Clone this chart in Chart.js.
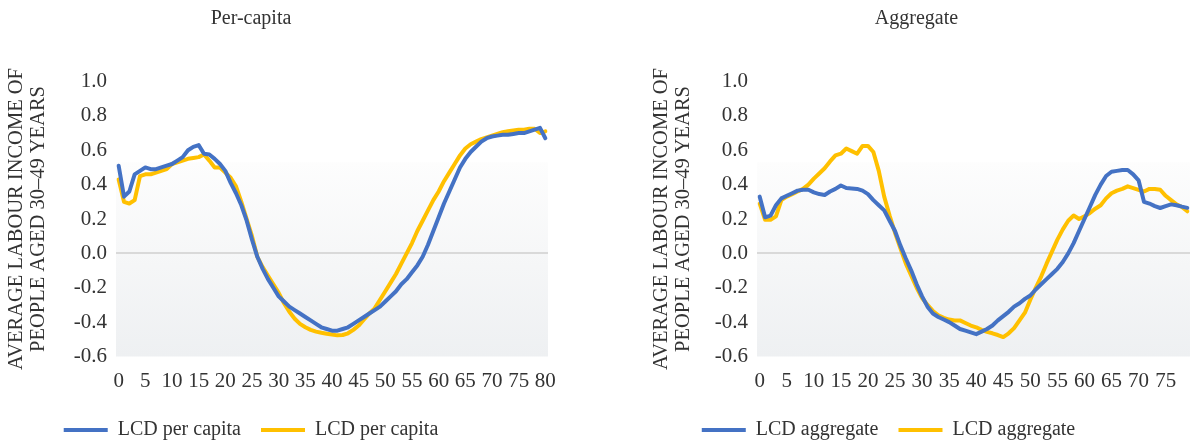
<!DOCTYPE html>
<html>
<head>
<meta charset="utf-8">
<script src="https://cdn.jsdelivr.net/npm/chart.js@4/dist/chart.umd.min.js"></script>
<style>
  html, body { margin: 0; padding: 0; background: #ffffff; }
  #wrap { position: relative; width: 1196px; height: 444px; overflow: hidden; }
  .panel { position: absolute; top: 0; width: 598px; height: 444px; }
</style>
</head>
<body>
<div id="wrap">
  <div class="panel" style="left:0"><canvas id="perCapita" width="598" height="444"></canvas></div>
  <div class="panel" style="left:598px"><canvas id="aggregate" width="598" height="444"></canvas></div>
</div>
<script>
// Age (years) on the horizontal axis
const ages = [0,1,2,3,4,5,6,7,8,9,10,11,12,13,14,15,16,17,18,19,20,
  21,22,23,24,25,26,27,28,29,30,31,32,33,34,35,36,37,38,39,40,
  41,42,43,44,45,46,47,48,49,50,51,52,53,54,55,56,57,58,59,60,
  61,62,63,64,65,66,67,68,69,70,71,72,73,74,75,76,77,78,79,80];
const aggAges = ages.slice(0, 80);

// Labelled ages on each horizontal axis
const pcAgeTicks  = [0,5,10,15,20,25,30,35,40,45,50,55,60,65,70,75,80];
const aggAgeTicks = [0,5,10,15,20,25,30,35,40,45,50,55,60,65,70,75];

// Per-capita life-cycle deficit, first series (blue)
const pcBlue = [0.51,0.33,0.36,0.46,0.48,0.50,0.49,0.49,0.50,0.51,
  0.52,0.54,0.56,0.60,0.62,0.63,0.58,0.575,0.55,0.52,
  0.48,0.41,0.35,0.28,0.19,0.08,-0.02,-0.09,-0.15,-0.20,
  -0.25,-0.28,-0.31,-0.33,-0.35,-0.37,-0.39,-0.41,-0.43,-0.44,
  -0.45,-0.45,-0.44,-0.43,-0.41,-0.39,-0.37,-0.35,-0.33,-0.31,
  -0.28,-0.25,-0.22,-0.18,-0.15,-0.11,-0.07,-0.02,0.05,0.13,
  0.21,0.29,0.36,0.43,0.50,0.55,0.59,0.62,0.65,0.67,
  0.68,0.685,0.69,0.69,0.695,0.70,0.70,0.71,0.72,0.73,
  0.67];

// Per-capita life-cycle deficit, second series (gold)
const pcGold = [0.43,0.30,0.29,0.31,0.45,0.46,0.46,0.47,0.48,0.49,
  0.52,0.53,0.54,0.55,0.555,0.56,0.575,0.54,0.50,0.50,
  0.47,0.44,0.39,0.30,0.20,0.10,-0.02,-0.08,-0.13,-0.18,
  -0.23,-0.29,-0.34,-0.38,-0.41,-0.43,-0.445,-0.455,-0.462,-0.468,
  -0.472,-0.477,-0.475,-0.465,-0.445,-0.42,-0.385,-0.35,-0.32,-0.27,
  -0.22,-0.17,-0.12,-0.06,0.0,0.06,0.13,0.19,0.25,0.31,
  0.36,0.42,0.47,0.52,0.57,0.61,0.635,0.65,0.665,0.675,
  0.685,0.695,0.705,0.71,0.715,0.72,0.72,0.725,0.725,0.70,
  0.71];

// Aggregate life-cycle deficit, first series (blue)
const aggBlue = [0.33,0.21,0.22,0.28,0.32,0.335,0.35,0.365,0.37,0.37,
  0.355,0.345,0.34,0.36,0.375,0.395,0.38,0.378,0.375,0.365,
  0.345,0.31,0.28,0.25,0.19,0.13,0.045,-0.03,-0.10,-0.18,
  -0.25,-0.31,-0.35,-0.37,-0.385,-0.40,-0.42,-0.44,-0.45,-0.46,
  -0.47,-0.455,-0.44,-0.42,-0.39,-0.365,-0.34,-0.31,-0.29,-0.265,
  -0.245,-0.21,-0.18,-0.15,-0.12,-0.09,-0.05,0.0,0.06,0.13,
  0.20,0.27,0.34,0.40,0.45,0.475,0.48,0.485,0.485,0.46,
  0.425,0.30,0.29,0.275,0.264,0.275,0.285,0.28,0.272,0.265];

// Aggregate life-cycle deficit, second series (gold)
const aggGold = [0.29,0.195,0.195,0.215,0.31,0.33,0.345,0.36,0.375,0.40,
  0.435,0.465,0.495,0.535,0.57,0.58,0.61,0.595,0.58,0.625,
  0.625,0.59,0.48,0.33,0.22,0.12,0.03,-0.06,-0.13,-0.20,
  -0.26,-0.30,-0.335,-0.36,-0.375,-0.385,-0.39,-0.39,-0.405,-0.42,
  -0.43,-0.445,-0.457,-0.465,-0.475,-0.487,-0.465,-0.435,-0.39,-0.345,
  -0.27,-0.20,-0.135,-0.06,0.01,0.08,0.14,0.19,0.22,0.20,
  0.215,0.235,0.26,0.28,0.32,0.35,0.365,0.375,0.39,0.38,
  0.37,0.36,0.375,0.375,0.37,0.335,0.31,0.285,0.27,0.245];

const BLUE = '#4472C4';
const GOLD = '#FFC000';
const TEXT = '#333333';
const FONT = 'Liberation Serif';

// Soft vertical shading behind the lower part of the plot area
const plotShade = {
  id: 'plotShade',
  beforeDraw(chart, args, opts) {
    const { ctx, chartArea: a, scales: { y } } = chart;
    const top = y.getPixelForValue(opts.from);
    const g = ctx.createLinearGradient(0, top, 0, a.bottom);
    g.addColorStop(0, '#fdfdfd');
    g.addColorStop(1, '#eef0f2');
    ctx.save();
    ctx.fillStyle = g;
    ctx.fillRect(a.left, top, a.right - a.left, a.bottom - top);
    ctx.restore();
  }
};

// Horizontal nudge for the title and legend blocks
const headerShift = {
  id: 'headerShift',
  afterLayout(chart, args, opts) {
    const t = chart.titleBlock, l = chart.legend;
    if (t) { t.left += opts.title; t.right += opts.title; }
    if (l) { l.left += opts.legend; l.right += opts.legend; }
  }
};

function makeChart(id, p) {
  const ds = (label, data, color) => ({
    label, data, borderColor: color, backgroundColor: color,
    borderWidth: 4, pointRadius: 0, tension: 0,
    borderJoinStyle: 'round', borderCapStyle: 'round', fill: false
  });
  return new Chart(document.getElementById(id), {
    type: 'line',
    data: {
      labels: p.labels,
      datasets: [ds(p.legendText, p.blue, BLUE), ds(p.legendText, p.gold, GOLD)]
    },
    plugins: [plotShade, headerShift],
    options: {
      responsive: false,
      animation: false,
      devicePixelRatio: 1,
      layout: { padding: { left: p.padLeft, right: p.padRight, top: 0, bottom: -6 } },
      scales: {
        x: {
          type: 'category',
          offset: true,
          grid: { display: false, drawTicks: false, tickLength: 0 },
          border: { display: false },
          ticks: {
            autoSkip: false, maxRotation: 0, padding: 12.5,
            color: TEXT, font: { family: FONT, size: 21 },
            callback(v, i) { const a = p.labels[i]; return p.tickAges.includes(a) ? String(a) : null; }
          },
          afterFit(s) { s.height = 43.5; }
        },
        y: {
          min: -0.6, max: 1.0,
          grid: {
            drawTicks: false, tickLength: 0, lineWidth: 2,
            color: (c) => Math.abs(c.tick.value) < 1e-9 ? '#d9d9d9' : 'rgba(0,0,0,0)'
          },
          border: { display: false },
          ticks: {
            stepSize: 0.2, padding: 9, color: TEXT, font: { family: FONT, size: 21 },
            callback: (v) => (Math.abs(v) < 1e-9 ? 0 : v).toFixed(1)
          },
          title: {
            display: true,
            text: ['AVERAGE LABOUR INCOME OF', 'PEOPLE AGED 30\u201349 YEARS'],
            color: TEXT, font: { family: FONT, size: 20.5, lineHeight: 1.03 },
            padding: { top: 6.5, bottom: 0 }
          },
          afterFit(s) { s.width = p.axisWidth; }
        }
      },
      plugins: {
        plotShade: { from: 0.53 },
        headerShift: { title: p.titleShift, legend: p.legendShift },
        title: {
          display: true, text: p.title, color: TEXT,
          font: { family: FONT, size: 20, weight: 'normal', lineHeight: 1.2 },
          padding: { top: 7, bottom: 50.5 }
        },
        legend: {
          position: 'bottom',
          labels: {
            usePointStyle: true, pointStyle: 'line', pointStyleWidth: 44,
            padding: 20, color: TEXT, font: { family: FONT, size: 20 }
          }
        },
        tooltip: { enabled: false }
      }
    }
  });
}

makeChart('perCapita', {
  labels: ages, tickAges: pcAgeTicks, blue: pcBlue, gold: pcGold,
  title: 'Per-capita', legendText: 'LCD per capita',
  padLeft: 0, padRight: 50, axisWidth: 116, titleShift: -23, legendShift: -23
});

makeChart('aggregate', {
  labels: aggAges, tickAges: aggAgeTicks, blue: aggBlue, gold: aggGold,
  title: 'Aggregate', legendText: 'LCD aggregate',
  padLeft: 47, padRight: 6, axisWidth: 112, titleShift: -1, legendShift: -29
});
</script>
</body>
</html>
